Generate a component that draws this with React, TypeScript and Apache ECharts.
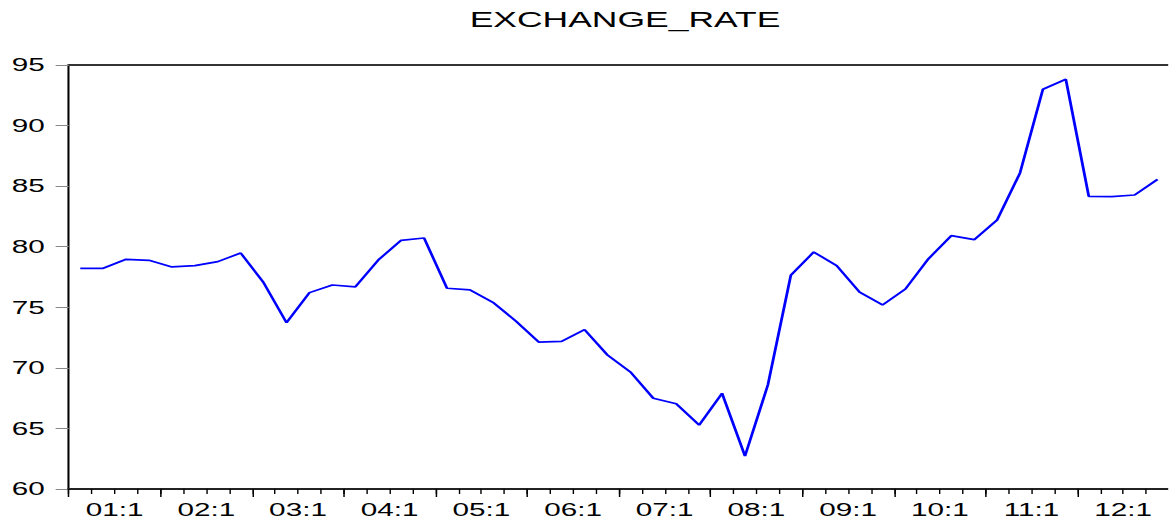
import React, { useEffect, useRef } from "react";
import * as echarts from "echarts";

// Horizontal stretch of the whole figure (the reference is drawn with wide, stretched glyphs)
const SX = 1.65;
const W = 1169 / SX;
const H = 522;

const titleText = "EXCHANGE_RATE";

const categories: string[] = [
  "00:3", "00:4",
  "01:1", "01:2", "01:3", "01:4",
  "02:1", "02:2", "02:3", "02:4",
  "03:1", "03:2", "03:3", "03:4",
  "04:1", "04:2", "04:3", "04:4",
  "05:1", "05:2", "05:3", "05:4",
  "06:1", "06:2", "06:3", "06:4",
  "07:1", "07:2", "07:3", "07:4",
  "08:1", "08:2", "08:3", "08:4",
  "09:1", "09:2", "09:3", "09:4",
  "10:1", "10:2", "10:3", "10:4",
  "11:1", "11:2", "11:3", "11:4",
  "12:1", "12:2",
];
const periodEnd = "12:3";

const exchangeRate: number[] = [
  78.22, 78.22, 78.96, 78.88, 78.33, 78.44, 78.77, 79.48, 77.03, 73.73,
  76.21, 76.84, 76.68, 78.9, 80.53, 80.72, 76.57, 76.43, 75.41, 73.87,
  72.13, 72.19, 73.15, 71.06, 69.66, 67.49, 67.04, 65.28, 67.9, 62.72,
  68.59, 77.64, 79.56, 78.44, 76.26, 75.19, 76.51, 78.99, 80.91, 80.58,
  82.21, 86.09, 93.0, 93.82, 84.16, 84.13, 84.27, 85.56,
];

const yMin = 60;
const yMax = 95;
const yStep = 5;

const FONT = "Liberation Sans, Arial, sans-serif";

export default function App() {
  const ref = useRef<HTMLDivElement>(null);

  useEffect(() => {
    if (!ref.current) return;
    const chart = echarts.init(ref.current, null, { renderer: "svg", width: W, height: H });
    const boundaries = [...categories, periodEnd];
    chart.setOption({
      animation: false,
      backgroundColor: "#ffffff",
      title: {
        text: titleText,
        left: 625 / SX,
        textAlign: "center",
        top: 8,
        padding: 0,
        textStyle: { fontFamily: FONT, fontSize: 21.5, fontWeight: "normal", color: "#000" },
      },
      grid: { left: 68.8 / SX, top: 65, width: 1107.4 / SX, height: 424, containLabel: false },
      xAxis: [
        {
          type: "category",
          data: categories,
          boundaryGap: true,
          position: "bottom",
          axisLine: { show: true, onZero: false, lineStyle: { color: "#222", width: 2 } },
          axisTick: { show: true, interval: 0, length: 5, lineStyle: { color: "#000", width: 0.85 } },
          axisLabel: { show: false },
          splitLine: { show: false },
        },
        {
          type: "category",
          data: boundaries,
          boundaryGap: false,
          position: "bottom",
          axisLine: { show: false, onZero: false },
          axisTick: {
            show: true,
            interval: (i: number) => i % 4 === 0,
            length: 8,
            lineStyle: { color: "#000", width: 0.9 },
          },
          axisLabel: {
            show: true,
            interval: (_i: number, v: string) => v.endsWith(":1"),
            margin: 12,
            fontFamily: FONT,
            fontSize: 18,
            color: "#000",
          },
          splitLine: { show: false },
        },
        {
          type: "category",
          data: categories,
          position: "top",
          axisLine: { show: true, onZero: false, lineStyle: { color: "#333", width: 2 } },
          axisTick: { show: false },
          axisLabel: { show: false },
          splitLine: { show: false },
        },
      ],
      yAxis: {
        type: "value",
        min: yMin,
        max: yMax,
        interval: yStep,
        axisLine: { show: true, onZero: false, lineStyle: { color: "#000", width: 1.25 } },
        axisTick: { show: true, length: 8, lineStyle: { color: "#888", width: 1 } },
        axisLabel: { margin: 14.5, fontFamily: FONT, fontSize: 18, color: "#000" },
        splitLine: { show: false },
      },
      series: [
        {
          type: "line",
          name: titleText,
          xAxisIndex: 0,
          data: exchangeRate,
          showSymbol: false,
          symbol: "none",
          lineStyle: { color: "#0000ff", width: 1.7 },
        },
      ],
    });
    return () => chart.dispose();
  }, []);

  return (
    <div
      ref={ref}
      style={{
        position: "absolute",
        left: 0,
        top: 0,
        width: W,
        height: H,
        transform: `scaleX(${SX})`,
        transformOrigin: "0 0",
        background: "#fff",
      }}
    />
  );
}
